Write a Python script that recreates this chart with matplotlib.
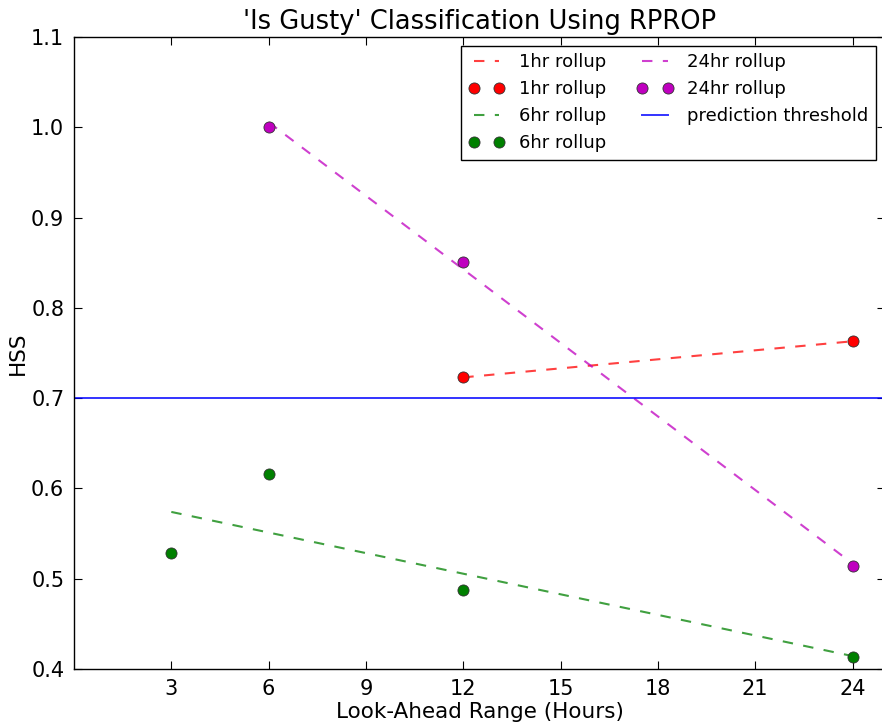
import numpy as np
import matplotlib
matplotlib.use("Agg")
import matplotlib.pyplot as plt

hours_1 = [12, 24]
hss_1 = [0.723, 0.763]
hours_6 = [3, 6, 12, 24]
hss_6 = [0.529, 0.616, 0.487, 0.413]
hours_24 = [6, 12, 24]
hss_24 = [1.000, 0.851, 0.514]
threshold = 0.7
xticks = [3, 6, 9, 12, 15, 18, 21, 24]

plt.rcParams['font.family'] = ['DejaVu Sans']
plt.rcParams['lines.scale_dashes'] = False
fig = plt.figure(figsize=(8.82, 7.23), dpi=100)
ax = fig.add_axes([74/882, 54/723, 811/882, 632/723])

series = [
    (hours_1, hss_1, 'red', '1hr rollup'),
    (hours_6, hss_6, 'green', '6hr rollup'),
    (hours_24, hss_24, 'm', '24hr rollup'),
]
for hx, hy, c, lab in series:
    hx = np.array(hx, float)
    p = np.polyfit(hx, hy, 1)
    ax.plot(hx[[0, -1]], np.polyval(p, hx[[0, -1]]), '--', color=c, alpha=0.75,
            lw=1.5, dashes=(7.5, 7.5), label=lab)
    ax.plot(hx, hy, 'o', color=c, markersize=8, markeredgecolor='#333333',
            markeredgewidth=0.6, label=lab, linestyle='none')

ax.axhline(threshold, color='blue', lw=1.4, alpha=0.8, label='prediction threshold')

ax.set_xlim(0, 25)
ax.set_ylim(0.4, 1.1)
ax.set_xticks(xticks)
ax.set_yticks(np.arange(0.4, 1.11, 0.1))
ax.set_yticklabels(['0.4', '0.5', '0.6', '0.7', '0.8', '0.9', '1.0', '1.1'])
ax.tick_params(direction='in', length=6, labelsize=15, top=True, right=True, pad=7)
ax.set_xlabel('Look-Ahead Range (Hours)', fontsize=15.5, labelpad=2)
ax.set_ylabel('HSS', fontsize=15.5, labelpad=2)
ax.set_title("'Is Gusty' Classification Using RPROP", fontsize=18.5, pad=6)
for s in ax.spines.values():
    s.set_linewidth(1.0)

leg = ax.legend(loc='upper right', ncol=2, numpoints=2, fontsize=13,
                fancybox=False, framealpha=1, edgecolor='black',
                handlelength=2.0, handletextpad=0.8, columnspacing=1.7,
                borderaxespad=0.5, borderpad=0.4, labelspacing=0.5)
leg.get_frame().set_linewidth(1.0)

fig.savefig('out.png', dpi=100)
